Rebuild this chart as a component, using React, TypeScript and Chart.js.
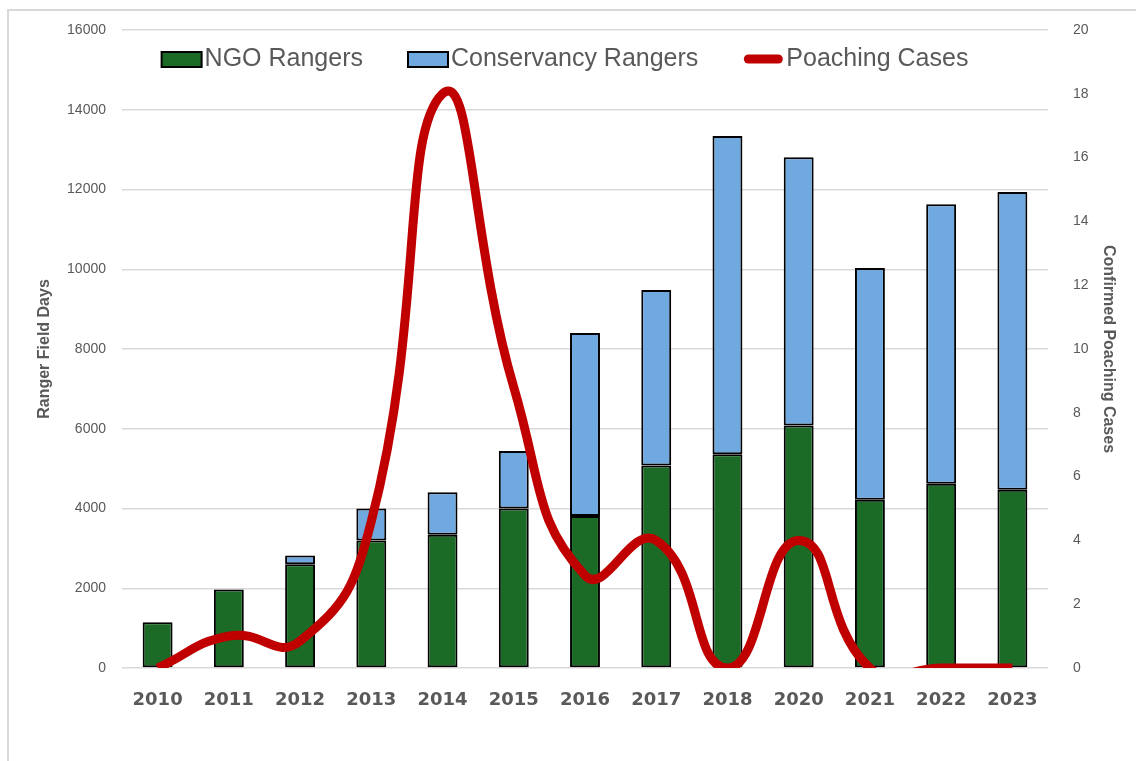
import React, { useEffect, useRef } from "react";
import { Chart, registerables } from "chart.js";

Chart.register(...registerables);

const years = ["2010", "2011", "2012", "2013", "2014", "2015", "2016", "2017", "2018", "2020", "2021", "2022", "2023"];
const ngoRangers = [1150, 1970, 2600, 3200, 3340, 4000, 3810, 5080, 5360, 6080, 4220, 4620, 4470];
const conservancyRangers = [0, 0, 220, 800, 1070, 1440, 4590, 4400, 7980, 6730, 5810, 7010, 7470];
const poachingCases = [0, 1, 0.85, 4.6, 18, 8.8, 2.9, 4, 0, 4, 0, 0, 0];

const GREEN = "#1b6b26";
const BLUE = "#70a9e0";
const RED = "#c00000";
const GRAY_TEXT = "#595959";
const GRID = "#d9d9d9";

const legendPlugin = {
  id: "customLegend",
  afterDraw(chart: any) {
    const ctx = chart.ctx;
    const items = chart.data.datasets.map((d: any) => ({
      label: d.label,
      type: d.type,
      color: d.type === "line" ? d.borderColor : d.backgroundColor,
    }));
    const order = ["NGO Rangers", "Conservancy Rangers", "Poaching Cases"];
    items.sort((a: any, b: any) => order.indexOf(a.label) - order.indexOf(b.label));
    ctx.save();
    ctx.font = "25px 'Liberation Sans', Arial, sans-serif";
    const markerW = 40;
    const gapText = 3;
    const gapItem = 45;
    let total = 0;
    items.forEach((it: any, i: number) => {
      total += markerW + gapText + ctx.measureText(it.label).width;
      if (i < items.length - 1) total += gapItem;
    });
    const centerX = 565;
    const cy = 59;
    let x = centerX - total / 2;
    items.forEach((it: any) => {
      if (it.type === "line") {
        ctx.strokeStyle = it.color;
        ctx.lineWidth = 9;
        ctx.lineCap = "round";
        ctx.beginPath();
        ctx.moveTo(x + 5, cy);
        ctx.lineTo(x + markerW - 5, cy);
        ctx.stroke();
      } else {
        ctx.fillStyle = it.color;
        ctx.fillRect(x, cy - 7, markerW, 15);
        ctx.strokeStyle = "#000";
        ctx.lineWidth = 2;
        ctx.strokeRect(x, cy - 7, markerW, 15);
      }
      x += markerW + gapText;
      ctx.fillStyle = GRAY_TEXT;
      ctx.textBaseline = "middle";
      ctx.textAlign = "left";
      ctx.fillText(it.label, x, cy);
      x += ctx.measureText(it.label).width + gapItem;
    });
    ctx.restore();
  },
};

export default function App() {
  const canvasRef = useRef<HTMLCanvasElement | null>(null);

  useEffect(() => {
    if (!canvasRef.current) return;
    const plain = (v: any) => String(v);
    const chart = new Chart(canvasRef.current, {
      type: "bar",
      data: {
        labels: years,
        datasets: [
          {
            type: "line",
            label: "Poaching Cases",
            data: poachingCases,
            yAxisID: "y1",
            borderColor: RED,
            backgroundColor: RED,
            borderWidth: 9,
            pointRadius: 0,
            tension: 0.5,
            clip: 0,
            order: 0,
          } as any,
          {
            type: "bar",
            label: "NGO Rangers",
            data: ngoRangers,
            yAxisID: "y",
            backgroundColor: GREEN,
            borderColor: "#000",
            borderWidth: 2,
            borderSkipped: false,
            order: 1,
          },
          {
            type: "bar",
            label: "Conservancy Rangers",
            data: conservancyRangers,
            yAxisID: "y",
            backgroundColor: BLUE,
            borderColor: "#000",
            borderWidth: 2,
            borderSkipped: false,
            order: 1,
          },
        ],
      },
      options: {
        responsive: false,
        animation: false,
        devicePixelRatio: 1,
        elements: { line: { capBezierPoints: false } as any },
        datasets: { bar: { categoryPercentage: 0.42, barPercentage: 1 } } as any,
        layout: { padding: { top: 30, left: 0, right: 0, bottom: 0 } },
        plugins: {
          legend: { display: false },
          tooltip: { enabled: false },
        },
        scales: {
          x: {
            stacked: true,
            grid: { display: false },
            border: { display: false },
            ticks: {
              color: GRAY_TEXT,
              padding: 14,
              font: { family: "'DejaVu Sans', sans-serif", size: 18, weight: "bold" },
            },
            afterFit: (s: any) => {
              s.height = 93;
            },
          },
          y: {
            stacked: true,
            position: "left",
            min: 0,
            max: 16000,
            ticks: {
              stepSize: 2000,
              color: GRAY_TEXT,
              padding: 16,
              callback: plain,
              font: { family: "'Liberation Sans', Arial, sans-serif", size: 14 },
            },
            grid: { color: GRID, lineWidth: 1.5, drawTicks: false },
            border: { display: false },
            title: {
              display: true,
              text: "Ranger Field Days",
              color: GRAY_TEXT,
              padding: { top: 35, bottom: 0 },
              font: { family: "'Liberation Sans', Arial, sans-serif", size: 16, weight: "bold" },
            },
            afterFit: (s: any) => {
              s.width = 122;
            },
          },
          y1: {
            position: "right",
            min: 0,
            max: 20,
            ticks: {
              stepSize: 2,
              color: GRAY_TEXT,
              padding: 3,
              callback: plain,
              font: { family: "'Liberation Sans', Arial, sans-serif", size: 14 },
            },
            grid: { display: false, drawTicks: true, tickLength: 22 },
            border: { display: false },
            title: {
              display: true,
              text: "Confirmed Poaching Cases",
              color: GRAY_TEXT,
              padding: { top: 18, bottom: 0 },
              font: { family: "'Liberation Sans', Arial, sans-serif", size: 16, weight: "bold" },
            },
            afterFit: (s: any) => {
              s.width = 88;
            },
          },
        },
      },
      plugins: [legendPlugin],
    });
    return () => chart.destroy();
  }, []);

  return (
    <div
      style={{
        position: "fixed",
        left: 0,
        top: 0,
        width: 1136,
        height: 761,
        background: "#ffffff",
        overflow: "hidden",
      }}
    >
      <div
        style={{
          position: "absolute",
          left: 7,
          top: 9,
          width: 1160,
          height: 800,
          border: "2px solid #d9d9d9",
          boxSizing: "border-box",
        }}
      />
      <canvas
        ref={canvasRef}
        width={1136}
        height={761}
        style={{ position: "absolute", left: 0, top: 0, width: 1136, height: 761 }}
      />
    </div>
  );
}
